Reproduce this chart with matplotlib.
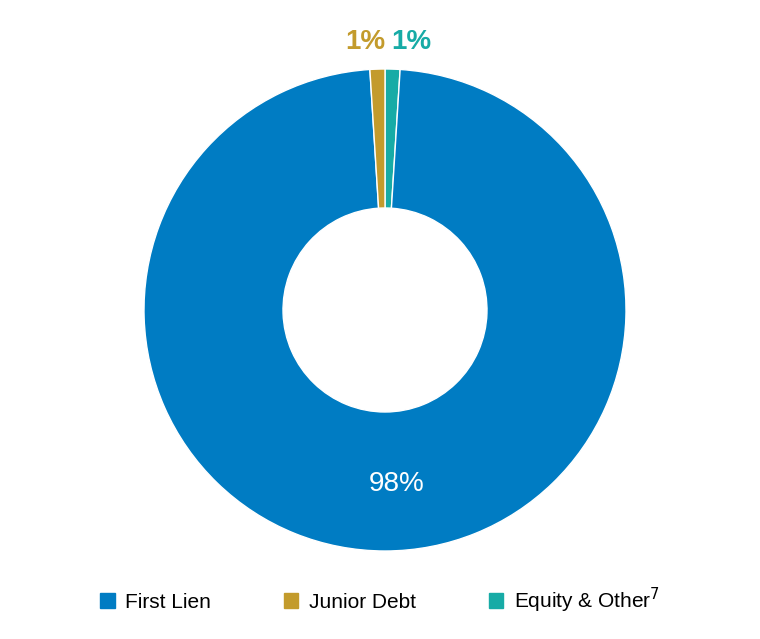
import matplotlib
matplotlib.use("Agg")
import matplotlib.pyplot as plt
import matplotlib.patches as mpatches

# data (clockwise from top)
labels = ["Equity & Other", "First Lien", "Junior Debt"]
values = [1, 98, 1]
colors = ["#17ABA6", "#007CC3", "#C39B2C"]
legend_order = ["First Lien", "Junior Debt", "Equity & Other$^{7}$"]
legend_colors = ["#007CC3", "#C39B2C", "#17ABA6"]

fig = plt.figure(figsize=(7.6, 6.39), dpi=100)
R = 241
cx, cy = 385, 639 - 310
ax = fig.add_axes([(cx - R) / 760, (cy - R) / 639, 2 * R / 760, 2 * R / 639])
ax.pie(values, colors=colors, startangle=90, counterclock=False, radius=1,
       wedgeprops=dict(width=(241 - 102) / 241, edgecolor="white", linewidth=1))
ax.set_xlim(-1, 1); ax.set_ylim(-1, 1); ax.set_aspect("equal"); ax.axis("off")

font = "Liberation Sans"
ax.text(0.05, -0.72, f"{values[1]}%", color="white", fontsize=20, ha="center", va="center", family=font)
fig.text(365 / 760, 1 - 42 / 639, f"{values[2]}%", color=colors[2], fontsize=20,
         ha="center", va="center", family=font, weight="bold")
fig.text(411 / 760, 1 - 42 / 639, f"{values[0]}%", color=colors[0], fontsize=20,
         ha="center", va="center", family=font, weight="bold")

handles = [mpatches.Patch(color=c, label=l) for l, c in zip(legend_order, legend_colors)]
fig.legend(handles=handles, loc="center", bbox_to_anchor=(0.5, 1 - 600 / 639), ncol=3,
           frameon=False, prop=dict(family=font, size=15), handlelength=0.7, handleheight=0.7,
           columnspacing=3.5, handletextpad=0.5)
fig.savefig("out.png", dpi=100)
